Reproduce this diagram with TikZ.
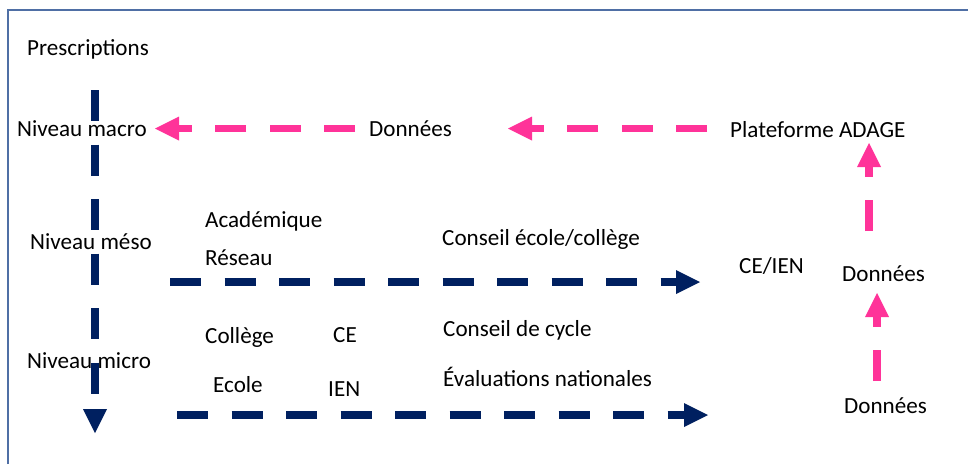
\documentclass[tikz,border=0pt]{standalone}
\usepackage{fontspec}
\setmainfont{Carlito}
\usetikzlibrary{arrows.meta}
\definecolor{navyc}{HTML}{002060}
\definecolor{pinkc}{HTML}{FF3399}
\definecolor{framec}{HTML}{4F6FA5}
\begin{document}
\begin{tikzpicture}[x=1pt,y=-1pt,
  lbl/.style={anchor=base west,inner sep=0pt,font=\fontsize{23.1}{27}\selectfont},
  flowline/.style={line width=7.7pt,dash pattern=on 31pt off 23.5pt},
  navyflow/.style={flowline,navyc,-{Triangle[length=24pt,width=24pt,line width=0pt]}},
  pinkflow/.style={flowline,pinkc,-{Triangle[length=24pt,width=24pt,line width=0pt]}}]
\useasboundingbox (0,0) rectangle (968,464);
\fill[white] (0,0) rectangle (968,464);
\draw[framec,line width=1.1pt] (8,464) -- (8,10) -- (968,10);
% texts
\node[lbl] (presc) at (27,55) {Prescriptions};
\node[lbl] (macro) at (17,136) {Niveau macro};
\node[lbl] (meso) at (30,249) {Niveau méso};
\node[lbl] (micro) at (27,368) {Niveau micro};
\node[lbl] (donL) at (369,136) {Données};
\node[lbl] (adage) at (730,137) {Plateforme ADAGE};
\node[lbl] (acad) at (205,227) {Académique};
\node[lbl] (reseau) at (205,265) {Réseau};
\node[lbl] (ceco) at (442,245) {Conseil école/collège};
\node[lbl] (ceien) at (739,273) {CE/IEN};
\node[lbl] (donM) at (842,281) {Données};
\node[lbl] (donB) at (844,413) {Données};
\node[lbl] (college) at (205,343) {Collège};
\node[lbl] (ecole) at (213,392) {Ecole};
\node[lbl] (ce) at (333,342) {CE};
\node[lbl] (ien) at (328,396) {IEN};
\node[lbl] (cycle) at (443,336) {Conseil de cycle};
\node[lbl] (evals) at (443,386) {Évaluations nationales};
% connector end points
\coordinate (vTop) at (95,90);
\coordinate (vEnd) at (95,433);
\coordinate (pA1) at (355,128.5);
\coordinate (pA2) at (155,128.5);
\coordinate (pB1) at (707,128.5);
\coordinate (pB2) at (508,128.5);
\coordinate (pC1) at (869,231);
\coordinate (pC2) at (869,143);
\coordinate (pD1) at (877,381);
\coordinate (pD2) at (877,293);
\coordinate (mS) at (170,282);
\coordinate (mE) at (700,282);
\coordinate (uS) at (177,415);
\coordinate (uE) at (708,415);
% connectors
\draw[navyflow] (vTop) -- (vEnd);
\draw[pinkflow] (pA1) -- (pA2);
\draw[pinkflow] (pB1) -- (pB2);
\draw[pinkflow] (pC1) -- (pC2);
\draw[pinkflow] (pD1) -- (pD2);
\draw[navyflow] (mS) -- (mE);
\draw[navyflow] (uS) -- (uE);
\end{tikzpicture}
\end{document}
